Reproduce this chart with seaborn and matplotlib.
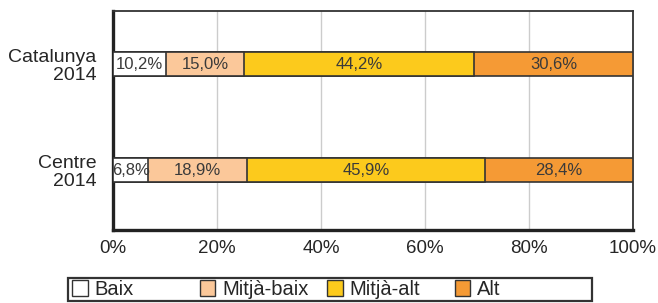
import numpy as np
import pandas as pd
import matplotlib
matplotlib.use("Agg")
import matplotlib.pyplot as plt
import seaborn as sns
from matplotlib.patches import Patch, Rectangle

sns.set_style("white")
plt.rcParams['font.family'] = ['Liberation Sans', 'DejaVu Sans']

# data
groups = ["Catalunya\n2014", "Centre\n2014"]
levels = ["Baix", "Mitjà-baix", "Mitjà-alt", "Alt"]
baix = [10.2, 6.8]
mitja_baix = [15.0, 18.9]
mitja_alt = [44.2, 45.9]
alt = [30.6, 28.4]
colors = ["#ffffff", "#fbc89a", "#fcca1c", "#f59a35"]

df = pd.DataFrame({"grup": groups, "Baix": baix, "Mitjà-baix": mitja_baix,
                   "Mitjà-alt": mitja_alt, "Alt": alt})
cum = df[levels].cumsum(axis=1)

W, H = 658, 303
fig = plt.figure(figsize=(W / 100, H / 100), dpi=100)
ax = fig.add_axes([113/W, 73/H, 520/W, 219/H])

# stacked bars: draw cumulative totals from the last level back to the first
for lev, col in zip(levels[::-1], colors[::-1]):
    sns.barplot(x=cum[lev], y=df["grup"], orient="h", color=col, width=0.23,
                saturation=1, edgecolor="#333333", linewidth=1.2, ax=ax, zorder=3)

# labels inside segments
for i in range(len(groups)):
    start = 0
    for lev in levels:
        v = df[lev][i]
        ax.text(start + v / 2, i + 0.005, f"{v:.1f}%".replace(".", ","),
                ha="center", va="center", fontsize=12, color="#3a3a3a", zorder=4)
        start += v

ax.set_xlim(0, 100)
ax.set_ylim(1.566, -0.5)
ax.set_xticks([0, 20, 40, 60, 80, 100])
ax.set_xticklabels([f"{t}%" for t in [0, 20, 40, 60, 80, 100]], fontsize=13.5)
ax.tick_params(axis="y", labelsize=14, length=0, pad=12)
ax.tick_params(axis="x", length=0, pad=7)
for lbl in ax.get_yticklabels():
    lbl.set_horizontalalignment("right")
    lbl.set_multialignment("right")
    lbl.set_linespacing(1.1)
ax.set_xlabel("")
ax.set_ylabel("")
ax.grid(axis="x", color="#cccccc", linewidth=1, zorder=0)
ax.set_axisbelow(True)
for s in ["left", "bottom"]:
    ax.spines[s].set_linewidth(2.4)
    ax.spines[s].set_color("#222222")
for s in ["top", "right"]:
    ax.spines[s].set_linewidth(1.3)
    ax.spines[s].set_color("#333333")

# legend: one entry per slot, equally spaced, inside one frame
fig.add_artist(Rectangle((68/W, 2/H), 524/W, 23/H, transform=fig.transFigure,
                         facecolor="white", edgecolor="#333333", linewidth=1.6))
for k, (lev, col) in enumerate(zip(levels, colors)):
    h = Patch(facecolor=col, edgecolor="#333333", linewidth=1)
    fig.legend([h], [lev], loc="center left", bbox_to_anchor=((72 + 127.5 * k) / W, 13.5/H),
               fontsize=14.5, frameon=False, borderpad=0, borderaxespad=0,
               handlelength=0.78, handleheight=0.78, handletextpad=0.35)

fig.savefig("out.png", dpi=100)
